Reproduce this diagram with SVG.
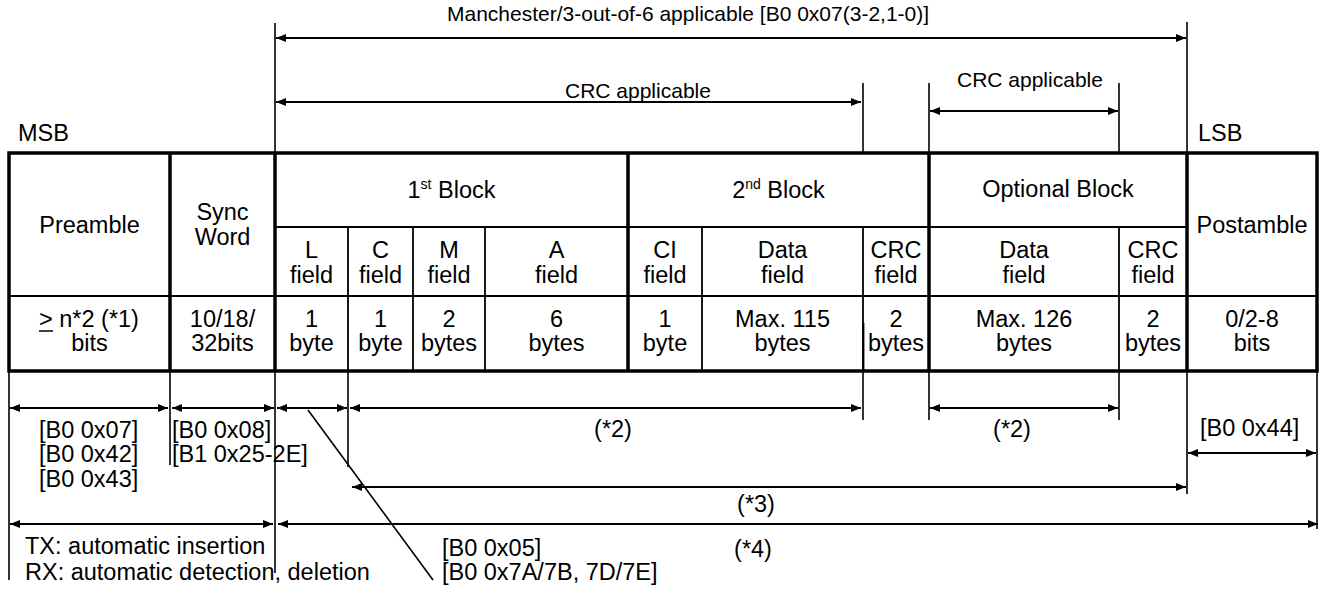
<svg xmlns="http://www.w3.org/2000/svg" width="1322" height="604" viewBox="0 0 1322 604">
<defs>
<marker id="ah" viewBox="0 0 10 8" refX="10" refY="4" markerWidth="10" markerHeight="8" markerUnits="userSpaceOnUse" orient="auto-start-reverse"><path d="M0,0 L10,4 L0,8 z" fill="#000"/></marker>
<style>
text{font-family:"Liberation Sans",Arial,Helvetica,sans-serif;font-size:23.5px;fill:#000}
.c{text-anchor:middle}
.s{font-size:21px}
.thick{stroke:#000;stroke-width:3.5;fill:none}
.thin{stroke:#000;stroke-width:1.8;fill:none}
.ext{stroke:#000;stroke-width:1.6;fill:none}
.arr{stroke:#000;stroke-width:2.2;fill:none;marker-start:url(#ah);marker-end:url(#ah)}
.sup{font-size:14px}
</style>
</defs>
<rect width="1322" height="604" fill="#fff"/>

<g id="table-frame">
<rect x="9" y="153" width="1308" height="218" class="thick"/>
<line x1="170" y1="153" x2="170" y2="371" class="thick"/>
<line x1="275" y1="153" x2="275" y2="371" class="thick"/>
<line x1="628" y1="153" x2="628" y2="371" class="thick"/>
<line x1="929" y1="153" x2="929" y2="371" class="thick"/>
<line x1="1187" y1="153" x2="1187" y2="371" class="thick"/>
<line x1="275" y1="227" x2="1187" y2="227" class="thin"/>
<line x1="9" y1="296" x2="1317" y2="296" class="thin"/>
<line x1="348" y1="227" x2="348" y2="371" class="thin"/>
<line x1="413" y1="227" x2="413" y2="371" class="thin"/>
<line x1="485" y1="227" x2="485" y2="371" class="thin"/>
<line x1="702" y1="227" x2="702" y2="371" class="thin"/>
<line x1="863" y1="227" x2="863" y2="371" class="thin"/>
<line x1="863.5" y1="323" x2="863.5" y2="371" class="thin" stroke-width="3"/>
<line x1="1119" y1="227" x2="1119" y2="371" class="thin"/>
</g>

<g id="preamble">
<text x="89.5" y="233" class="c">Preamble</text>
<text x="39" y="327">&gt; n*2 (*1)</text>
<line x1="39" y1="331" x2="53" y2="331" stroke="#000" stroke-width="1.5"/>
<text x="89.5" y="351" class="c">bits</text>
</g>
<g id="sync-word">
<text x="222.5" y="220" class="c">Sync</text>
<text x="222.5" y="245" class="c">Word</text>
<text x="222.5" y="327" class="c">10/18/</text>
<text x="222.5" y="351" class="c">32bits</text>
</g>
<g id="first-block">
<text x="451.5" y="198" class="c">1<tspan class="sup" dy="-9">st</tspan><tspan dy="9"> Block</tspan></text>
</g>
<g id="l-field">
<text x="311.5" y="258" class="c">L</text>
<text x="311.5" y="283" class="c">field</text>
<text x="311.5" y="327" class="c">1</text>
<text x="311.5" y="351" class="c">byte</text>
</g>
<g id="c-field">
<text x="380.5" y="258" class="c">C</text>
<text x="380.5" y="283" class="c">field</text>
<text x="380.5" y="327" class="c">1</text>
<text x="380.5" y="351" class="c">byte</text>
</g>
<g id="m-field">
<text x="449" y="258" class="c">M</text>
<text x="449" y="283" class="c">field</text>
<text x="449" y="327" class="c">2</text>
<text x="449" y="351" class="c">bytes</text>
</g>
<g id="a-field">
<text x="556.5" y="258" class="c">A</text>
<text x="556.5" y="283" class="c">field</text>
<text x="556.5" y="327" class="c">6</text>
<text x="556.5" y="351" class="c">bytes</text>
</g>
<g id="second-block">
<text x="778.5" y="198" class="c">2<tspan class="sup" dy="-9">nd</tspan><tspan dy="9"> Block</tspan></text>
</g>
<g id="ci-field">
<text x="665" y="258" class="c">CI</text>
<text x="665" y="283" class="c">field</text>
<text x="665" y="327" class="c">1</text>
<text x="665" y="351" class="c">byte</text>
</g>
<g id="data-field-2">
<text x="782.5" y="258" class="c">Data</text>
<text x="782.5" y="283" class="c">field</text>
<text x="782.5" y="327" class="c">Max. 115</text>
<text x="782.5" y="351" class="c">bytes</text>
</g>
<g id="crc-field-2">
<text x="896" y="258" class="c">CRC</text>
<text x="896" y="283" class="c">field</text>
<text x="896" y="327" class="c">2</text>
<text x="896" y="351" class="c">bytes</text>
</g>
<g id="optional-block">
<text x="1058" y="197" class="c">Optional Block</text>
</g>
<g id="data-field-opt">
<text x="1024" y="258" class="c">Data</text>
<text x="1024" y="283" class="c">field</text>
<text x="1024" y="327" class="c">Max. 126</text>
<text x="1024" y="351" class="c">bytes</text>
</g>
<g id="crc-field-opt">
<text x="1153" y="258" class="c">CRC</text>
<text x="1153" y="283" class="c">field</text>
<text x="1153" y="327" class="c">2</text>
<text x="1153" y="351" class="c">bytes</text>
</g>
<g id="postamble">
<text x="1252" y="233" class="c">Postamble</text>
<text x="1252" y="327" class="c">0/2-8</text>
<text x="1252" y="351" class="c">bits</text>
</g>

<g id="labels">
<text x="447" y="21" class="s">Manchester/3-out-of-6 applicable [B0 0x07(3-2,1-0)]</text>
<text x="565" y="98" class="s">CRC applicable</text>
<text x="957" y="87" class="s">CRC applicable</text>
<text x="18" y="141">MSB</text>
<text x="1198" y="141">LSB</text>
<text x="39" y="438">[B0 0x07]</text>
<text x="39" y="462">[B0 0x42]</text>
<text x="39" y="487">[B0 0x43]</text>
<text x="172" y="438">[B0 0x08]</text>
<text x="172" y="462">[B1 0x25-2E]</text>
<text x="613" y="437" class="c">(*2)</text>
<text x="1012" y="437" class="c">(*2)</text>
<text x="1200" y="436">[B0 0x44]</text>
<text x="756" y="512" class="c">(*3)</text>
<text x="753" y="557" class="c">(*4)</text>
<text x="25" y="554">TX: automatic insertion</text>
<text x="25" y="580">RX: automatic detection, deletion</text>
<text x="442" y="556">[B0 0x05]</text>
<text x="442" y="580">[B0 0x7A/7B, 7D/7E]</text>
</g>

<g id="connectors">
<line x1="275" y1="23" x2="275" y2="153" class="ext"/>
<line x1="1187" y1="22" x2="1187" y2="153" class="ext"/>
<line x1="276" y1="38" x2="1186" y2="38" class="arr"/>
<line x1="863" y1="83" x2="863" y2="153" class="ext"/>
<line x1="276" y1="102" x2="861" y2="102" class="arr"/>
<line x1="929" y1="83" x2="929" y2="153" class="ext"/>
<line x1="1119" y1="83" x2="1119" y2="153" class="ext"/>
<line x1="930" y1="111" x2="1118" y2="111" class="arr"/>

<line x1="9" y1="371" x2="9" y2="580" class="ext"/>
<line x1="170" y1="371" x2="170" y2="465" class="ext"/>
<line x1="275" y1="371" x2="275" y2="573" class="ext"/>
<line x1="348" y1="371" x2="348" y2="467" class="ext"/>
<line x1="863" y1="371" x2="863" y2="420" class="ext"/>
<line x1="929" y1="371" x2="929" y2="420" class="ext"/>
<line x1="1119" y1="371" x2="1119" y2="420" class="ext"/>
<line x1="1187" y1="371" x2="1187" y2="494" class="ext"/>
<line x1="1317" y1="371" x2="1317" y2="529" class="ext"/>

<line x1="10" y1="408" x2="168" y2="408" class="arr"/>
<line x1="172" y1="408" x2="274" y2="408" class="arr"/>
<line x1="277" y1="408" x2="347" y2="408" class="arr"/>
<line x1="350" y1="408" x2="861" y2="408" class="arr"/>
<line x1="930" y1="408" x2="1118" y2="408" class="arr"/>
<line x1="1188" y1="453" x2="1316" y2="453" class="arr"/>
<line x1="352" y1="487" x2="1186" y2="487" class="arr"/>
<line x1="10" y1="524" x2="273" y2="524" class="arr"/>
<line x1="278" y1="524" x2="1318" y2="524" class="arr"/>
<line x1="308" y1="410" x2="433" y2="580" class="ext"/>
</g>
</svg>
